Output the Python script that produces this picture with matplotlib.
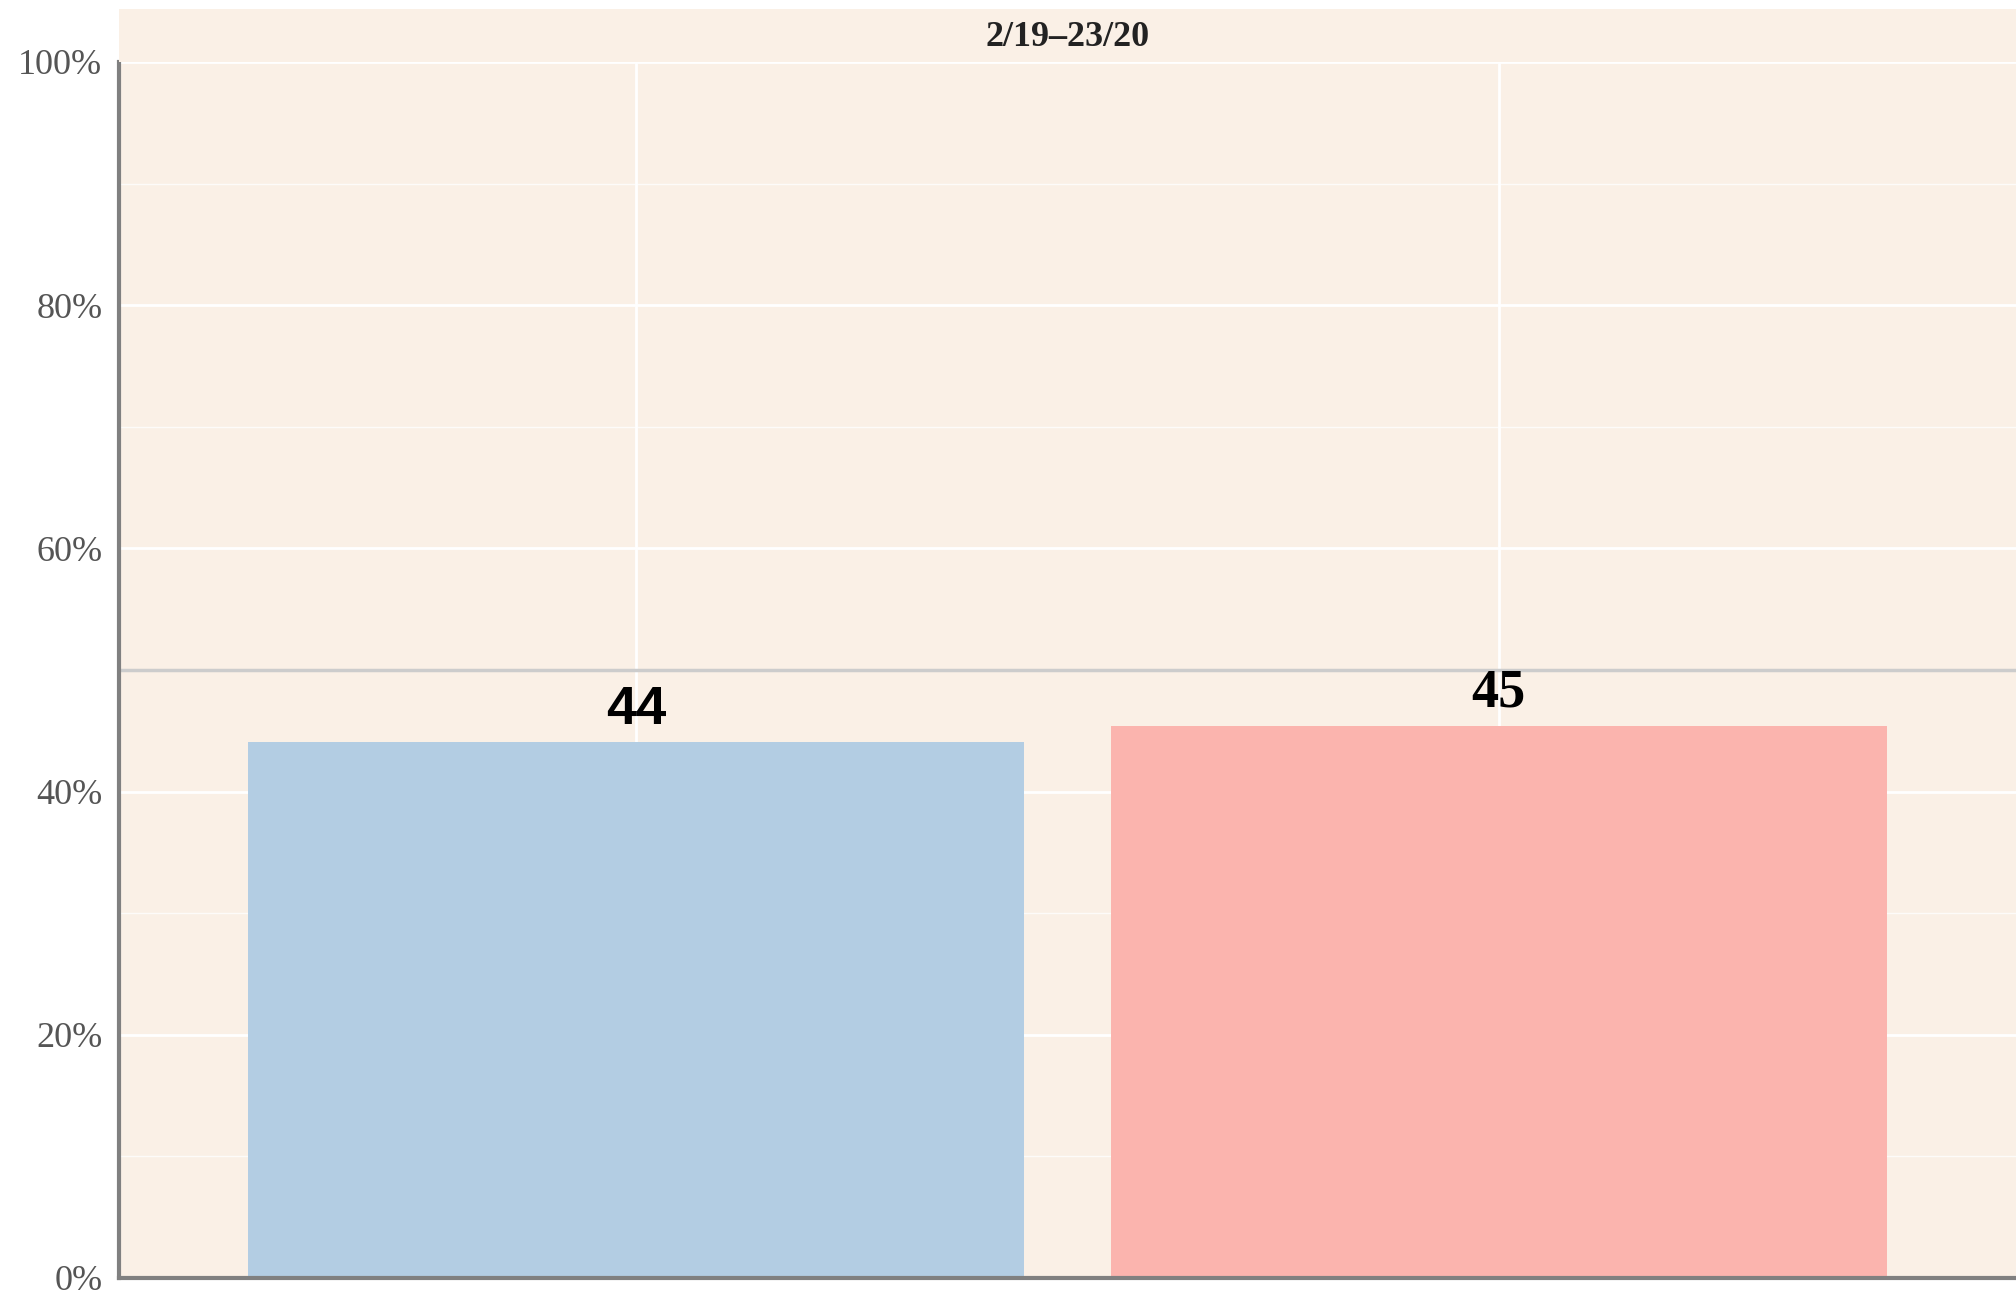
import matplotlib
matplotlib.use("Agg")
from matplotlib import pyplot as plt
from matplotlib.patches import Rectangle
from matplotlib.ticker import MultipleLocator, FuncFormatter

# data
categories = ["A", "B"]
values = [44.1, 45.4]
labels = ["44", "45"]
label_fonts = ["Liberation Sans", "Liberation Serif"]
colors = ["#b3cde3", "#fbb4ae"]
period = "2/19\u201323/20"
reference_line = 50

bg = "#faf0e6"
W, H = 2016, 1293

fig = plt.figure(figsize=(W / 100, H / 100), dpi=100)
fig.patch.set_facecolor("white")

# axes placed in pixel terms of the reference
left, right, top, bottom = 119, 2016, 62, 1278
ax = fig.add_axes([left / W, (H - bottom) / H, (right - left) / W, (bottom - top) / H])
ax.set_facecolor(bg)

# header strip above the axes, same colour as the panel
fig.patches.append(Rectangle((left / W, (H - top) / H), (right - left) / W, (top - 9) / H,
                             transform=fig.transFigure, facecolor=bg, edgecolor="none", zorder=0))
fig.text((left + right) / 2 / W, (H - 38) / H, period, ha="center", va="center",
         family="Liberation Serif", fontweight="bold", fontsize=26, color="#222222")

x = list(range(len(categories)))
ax.bar(x, values, width=0.9, color=colors, zorder=2)
ax.set_xlim(-0.6, 1.6)
ax.set_ylim(0, 100)

ax.yaxis.set_major_locator(MultipleLocator(20))
ax.yaxis.set_minor_locator(MultipleLocator(10))
ax.yaxis.set_major_formatter(FuncFormatter(lambda v, p: f"{v:.0f}%"))
ax.set_xticks(x)
ax.set_xticklabels([])
ax.grid(axis="y", which="major", color="white", linewidth=2, zorder=1)
ax.grid(axis="y", which="minor", color="white", linewidth=1, alpha=0.8, zorder=1)
ax.grid(axis="x", which="major", color="white", linewidth=2, zorder=1)
ax.set_axisbelow(True)
ax.tick_params(axis="both", which="both", length=0)
ax.tick_params(axis="y", pad=12, labelsize=26, labelcolor="#555555")
for t in ax.get_yticklabels():
    t.set_family("Liberation Serif")

ax.axhline(reference_line, color="#cccccc", linewidth=2.5, zorder=1.5)

for xi, v, lab, fam in zip(x, values, labels, label_fonts):
    ax.annotate(lab, (xi, v), xytext=(0, 5), textcoords="offset points",
                ha="center", va="bottom", fontsize=39, fontweight="bold",
                family=fam, color="black", zorder=3)

for s in ["top", "right"]:
    ax.spines[s].set_visible(False)
for s in ["left", "bottom"]:
    ax.spines[s].set_color("#808080")
    ax.spines[s].set_linewidth(3)

fig.savefig("out.png", dpi=100, facecolor=fig.get_facecolor())
